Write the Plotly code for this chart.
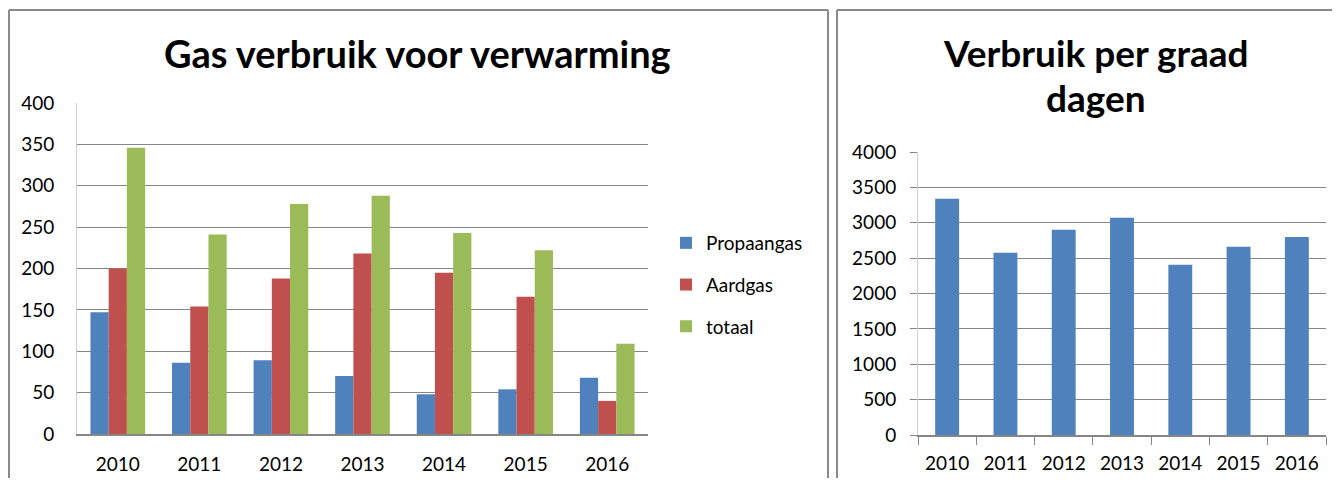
import plotly.graph_objects as go

years = ["2010", "2011", "2012", "2013", "2014", "2015", "2016"]
propaangas = [147, 86, 89, 70, 48, 54, 68]
aardgas = [200, 154, 188, 218, 195, 166, 40]
totaal = [346, 241, 278, 288, 243, 222, 109]
per_graad_dagen = [3340, 2575, 2900, 3070, 2405, 2660, 2800]

left_y_ticks = [0, 50, 100, 150, 200, 250, 300, 350, 400]
right_y_ticks = [0, 500, 1000, 1500, 2000, 2500, 3000, 3500, 4000]

OFF = 8  # browser body margin
W, H = 1340 - 2 * OFF, 486 - 2 * OFF
FONT = "Lato"
BLUE, RED, GREEN = "#4F81BD", "#C0504D", "#9BBB59"
GRID = "#868686"


def px(x):
    return (x - OFF) / W


def py(y):
    return 1 - (y - OFF) / H


fig = go.Figure()
fig.add_trace(go.Bar(x=years, y=propaangas, name="Propaangas", marker_color=BLUE,
                     legendgroup="a", xaxis="x", yaxis="y"))
fig.add_trace(go.Bar(x=years, y=aardgas, name="Aardgas", marker_color=RED,
                     legendgroup="b", xaxis="x", yaxis="y"))
fig.add_trace(go.Bar(x=years, y=totaal, name="totaal", marker_color=GREEN,
                     legendgroup="c", xaxis="x", yaxis="y"))
fig.add_trace(go.Bar(x=years, y=per_graad_dagen, name="Verbruik per graad dagen",
                     marker_color=BLUE, showlegend=False, xaxis="x2", yaxis="y2",
                     width=0.41))

tickfont = dict(family=FONT, size=19, color="#000000")

fig.update_layout(
    template="none",
    width=W, height=H,
    margin=dict(l=0, r=0, t=0, b=0, autoexpand=False),
    paper_bgcolor="white", plot_bgcolor="white",
    barmode="group", bargap=0.33, bargroupgap=0,
    font=dict(family=FONT, color="#000000"),
    xaxis=dict(domain=[px(77), px(648)], anchor="y", type="category", automargin=False,
               showgrid=False, showline=True, linecolor=GRID, linewidth=2,
               ticks="", tickfont=tickfont, ticklabelstandoff=12),
    yaxis=dict(domain=[py(434), py(103)], anchor="x", range=[0, 400], automargin=False,
               tickvals=left_y_ticks, showgrid=True, gridcolor=GRID, gridwidth=1,
               showline=True, linecolor="#D0D0D0", linewidth=1, zeroline=False,
               ticks="", tickfont=tickfont, ticklabelstandoff=18),
    xaxis2=dict(domain=[px(918), px(1326)], anchor="y2", type="category", automargin=False,
                showgrid=False, showline=True, linecolor=GRID, linewidth=2,
                ticks="outside", tickson="boundaries", ticklen=8, tickcolor=GRID,
                tickfont=tickfont, ticklabelstandoff=10),
    yaxis2=dict(domain=[py(435), py(152)], anchor="x2", range=[0, 4000], automargin=False,
                tickvals=right_y_ticks, showgrid=True, gridcolor=GRID, gridwidth=1,
                showline=True, linecolor="#D0D0D0", linewidth=1, zeroline=False,
                ticks="outside", ticklen=7, tickcolor=GRID,
                tickfont=tickfont, ticklabelstandoff=10),
    legend=dict(x=px(666), y=py(285), xanchor="left", yanchor="middle",
                font=dict(family=FONT, size=19, color="#000000"),
                tracegroupgap=14, bgcolor="rgba(0,0,0,0)", borderwidth=0),
    showlegend=True,
)

# panel borders
border = dict(color="#8A8A8A", width=2)
fig.add_shape(type="line", xref="paper", yref="paper", layer="above",
              x0=px(9), x1=px(828), y0=py(10), y1=py(10), line=border)
fig.add_shape(type="line", xref="paper", yref="paper", layer="above",
              x0=px(9), x1=px(9), y0=-0.1, y1=py(10), line=border)
fig.add_shape(type="line", xref="paper", yref="paper", layer="above",
              x0=px(828), x1=px(828), y0=-0.1, y1=py(10), line=border)
fig.add_shape(type="line", xref="paper", yref="paper", layer="above",
              x0=px(837), x1=1.05, y0=py(10), y1=py(10), line=border)
fig.add_shape(type="line", xref="paper", yref="paper", layer="above",
              x0=px(837), x1=px(837), y0=-0.1, y1=py(10), line=border)

# titles
title_font = dict(family=FONT, size=38, color="#000000")
fig.add_annotation(text="<b>Gas verbruik voor verwarming</b>", xref="paper", yref="paper",
                   x=px(417), y=py(53), xanchor="center", yanchor="middle",
                   showarrow=False, font=title_font)
title_font2 = dict(family=FONT, size=37, color="#000000")
fig.add_annotation(text="<b>Verbruik per graad</b>", xref="paper", yref="paper",
                   x=px(1096), y=py(53), xanchor="center", yanchor="middle",
                   showarrow=False, font=title_font2)
fig.add_annotation(text="<b>dagen</b>", xref="paper", yref="paper",
                   x=px(1096), y=py(97), xanchor="center", yanchor="middle",
                   showarrow=False, font=title_font2)

fig.write_html("out.html")
